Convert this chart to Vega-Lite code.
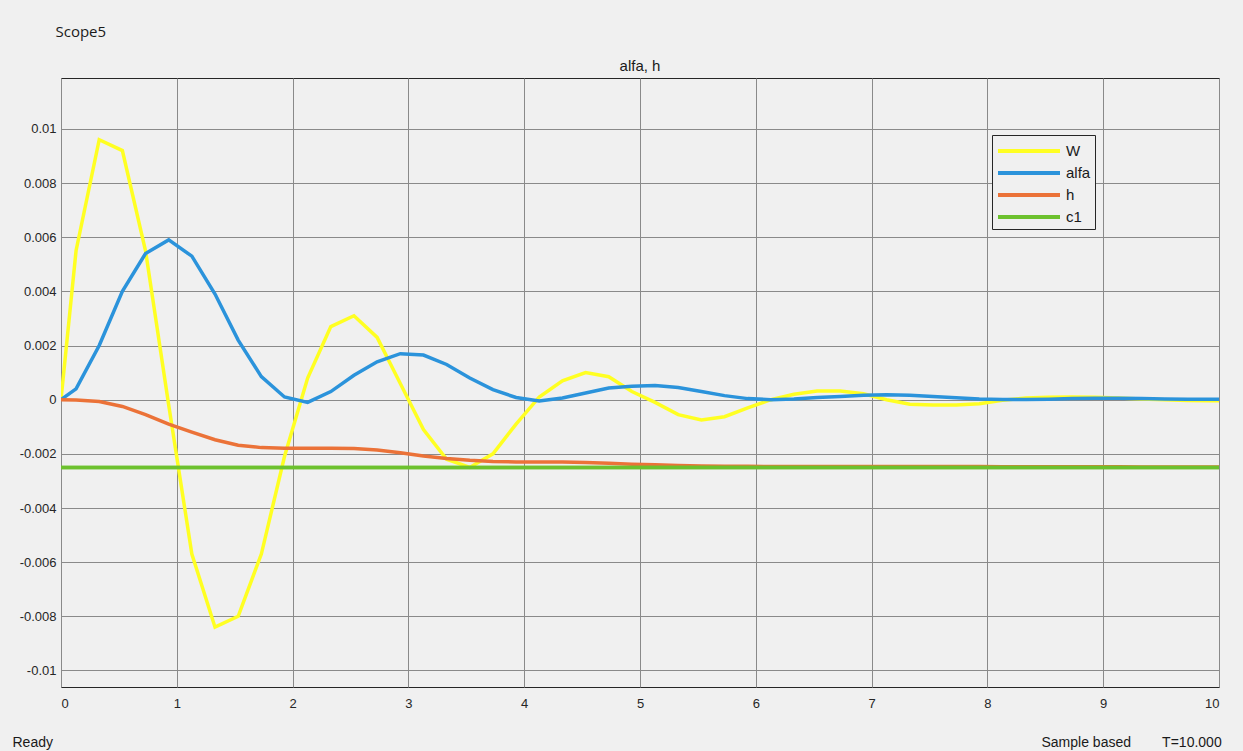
{
  "$schema": "https://vega.github.io/schema/vega-lite/v6.json",
  "width": 1158,
  "height": 609,
  "autosize": {"type": "none"},
  "padding": {"left": 61, "top": 78, "right": 24, "bottom": 64},
  "background": "#f0f0f0",
  "config": {
    "font": "Liberation Sans",
    "view": {"stroke": "#262626", "strokeWidth": 1, "fill": "#f0f0f0"}
  },
  "title": {"text": "alfa, h", "fontSize": 15, "fontWeight": "normal", "color": "#1a1a1a", "offset": -50, "anchor": "middle", "font": "Liberation Sans"},
  "data": {"values": [
    {"t": 0, "W": 0, "alfa": 0, "h": 0, "c1": -0.0025},
    {"t": 0.13, "W": 0.0055, "alfa": 0.0004, "h": -0.00001, "c1": -0.0025},
    {"t": 0.33, "W": 0.0096, "alfa": 0.0020, "h": -0.00007, "c1": -0.0025},
    {"t": 0.53, "W": 0.0092, "alfa": 0.0040, "h": -0.00025, "c1": -0.0025},
    {"t": 0.73, "W": 0.0055, "alfa": 0.0054, "h": -0.00055, "c1": -0.0025},
    {"t": 0.93, "W": -0.0002, "alfa": 0.0059, "h": -0.0009, "c1": -0.0025},
    {"t": 1.13, "W": -0.0057, "alfa": 0.0053, "h": -0.0012, "c1": -0.0025},
    {"t": 1.33, "W": -0.0084, "alfa": 0.0039, "h": -0.00148, "c1": -0.0025},
    {"t": 1.53, "W": -0.0080, "alfa": 0.0022, "h": -0.00168, "c1": -0.0025},
    {"t": 1.73, "W": -0.0057, "alfa": 0.00085, "h": -0.00177, "c1": -0.0025},
    {"t": 1.93, "W": -0.0021, "alfa": 0.0001, "h": -0.00179, "c1": -0.0025},
    {"t": 2.13, "W": 0.0008, "alfa": -0.0001, "h": -0.00179, "c1": -0.0025},
    {"t": 2.33, "W": 0.0027, "alfa": 0.0003, "h": -0.00179, "c1": -0.0025},
    {"t": 2.53, "W": 0.0031, "alfa": 0.0009, "h": -0.0018, "c1": -0.0025},
    {"t": 2.73, "W": 0.0023, "alfa": 0.0014, "h": -0.00186, "c1": -0.0025},
    {"t": 2.93, "W": 0.0006, "alfa": 0.0017, "h": -0.00196, "c1": -0.0025},
    {"t": 3.13, "W": -0.0011, "alfa": 0.00165, "h": -0.00208, "c1": -0.0025},
    {"t": 3.33, "W": -0.0022, "alfa": 0.0013, "h": -0.00217, "c1": -0.0025},
    {"t": 3.53, "W": -0.0025, "alfa": 0.0008, "h": -0.00224, "c1": -0.0025},
    {"t": 3.73, "W": -0.0020, "alfa": 0.00037, "h": -0.00228, "c1": -0.0025},
    {"t": 3.93, "W": -0.0009, "alfa": 0.00008, "h": -0.0023, "c1": -0.0025},
    {"t": 4.13, "W": 0.0001, "alfa": -0.00005, "h": -0.0023, "c1": -0.0025},
    {"t": 4.33, "W": 0.0007, "alfa": 0.00006, "h": -0.0023, "c1": -0.0025},
    {"t": 4.53, "W": 0.0010, "alfa": 0.00025, "h": -0.00232, "c1": -0.0025},
    {"t": 4.73, "W": 0.00085, "alfa": 0.00043, "h": -0.00235, "c1": -0.0025},
    {"t": 4.93, "W": 0.0003, "alfa": 0.0005, "h": -0.00238, "c1": -0.0025},
    {"t": 5.13, "W": -0.0001, "alfa": 0.00052, "h": -0.0024, "c1": -0.0025},
    {"t": 5.33, "W": -0.00055, "alfa": 0.00045, "h": -0.00243, "c1": -0.0025},
    {"t": 5.53, "W": -0.00075, "alfa": 0.0003, "h": -0.00245, "c1": -0.0025},
    {"t": 5.73, "W": -0.00063, "alfa": 0.00015, "h": -0.00246, "c1": -0.0025},
    {"t": 5.93, "W": -0.0003, "alfa": 0.00004, "h": -0.00246, "c1": -0.0025},
    {"t": 6.13, "W": 0.0, "alfa": 0.0, "h": -0.00247, "c1": -0.0025},
    {"t": 6.33, "W": 0.0002, "alfa": 0.00003, "h": -0.00247, "c1": -0.0025},
    {"t": 6.53, "W": 0.00032, "alfa": 0.00008, "h": -0.00247, "c1": -0.0025},
    {"t": 6.73, "W": 0.00032, "alfa": 0.00012, "h": -0.00247, "c1": -0.0025},
    {"t": 6.93, "W": 0.00022, "alfa": 0.00016, "h": -0.00247, "c1": -0.0025},
    {"t": 7.13, "W": 0.0, "alfa": 0.00018, "h": -0.00247, "c1": -0.0025},
    {"t": 7.33, "W": -0.00017, "alfa": 0.00016, "h": -0.00247, "c1": -0.0025},
    {"t": 7.53, "W": -0.0002, "alfa": 0.00012, "h": -0.00247, "c1": -0.0025},
    {"t": 7.73, "W": -0.0002, "alfa": 0.00007, "h": -0.00247, "c1": -0.0025},
    {"t": 7.93, "W": -0.00015, "alfa": 0.00003, "h": -0.00247, "c1": -0.0025},
    {"t": 8.13, "W": -0.00002, "alfa": 0.00001, "h": -0.00248, "c1": -0.0025},
    {"t": 8.33, "W": 0.00006, "alfa": 0.00001, "h": -0.00248, "c1": -0.0025},
    {"t": 8.53, "W": 0.00009, "alfa": 0.00002, "h": -0.00248, "c1": -0.0025},
    {"t": 8.73, "W": 0.0001, "alfa": 0.00004, "h": -0.00248, "c1": -0.0025},
    {"t": 8.93, "W": 0.00009, "alfa": 0.00005, "h": -0.00248, "c1": -0.0025},
    {"t": 9.13, "W": 0.00006, "alfa": 0.00005, "h": -0.00248, "c1": -0.0025},
    {"t": 9.33, "W": 0.00003, "alfa": 0.00004, "h": -0.00249, "c1": -0.0025},
    {"t": 9.53, "W": 0.0, "alfa": 0.00003, "h": -0.00249, "c1": -0.0025},
    {"t": 9.73, "W": -0.00003, "alfa": 0.00002, "h": -0.00249, "c1": -0.0025},
    {"t": 9.93, "W": -0.00004, "alfa": 0.00002, "h": -0.00249, "c1": -0.0025},
    {"t": 10, "W": -0.00004, "alfa": 0.00002, "h": -0.00249, "c1": -0.0025}
  ]},
  "transform": [{"fold": ["W", "alfa", "h", "c1"], "as": ["series", "value"]}],
  "layer": [
    {
      "mark": {"type": "line", "strokeWidth": 3.5, "clip": true},
      "encoding": {
        "x": {
          "field": "t", "type": "quantitative",
          "scale": {"domain": [0, 10], "nice": false},
          "axis": {
            "values": [0, 1, 2, 3, 4, 5, 6, 7, 8, 9, 10],
            "format": "d",
            "grid": true, "gridColor": "#8a8a8a", "gridOpacity": 1, "gridWidth": 1,
            "ticks": false, "domain": false,
            "labelFontSize": 13, "labelColor": "#262626", "labelPadding": 10,
            "labelFont": "Liberation Sans",
            "title": "Ready", "titleFont": "Liberation Sans", "titleFontSize": 14,
            "titleFontWeight": "normal", "titleColor": "#1a1a1a",
            "titleAnchor": "start", "titleAlign": "left", "titleBaseline": "alphabetic",
            "titleX": -49, "titleY": 59
          }
        },
        "y": {
          "field": "value", "type": "quantitative",
          "scale": {"domain": [-0.01061, 0.01188], "nice": false, "zero": false},
          "axis": {
            "values": [-0.01, -0.008, -0.006, -0.004, -0.002, 0, 0.002, 0.004, 0.006, 0.008, 0.01],
            "labelExpr": "'' + datum.value",
            "grid": true, "gridColor": "#8a8a8a", "gridOpacity": 1, "gridWidth": 1,
            "ticks": false, "domain": false,
            "labelFontSize": 13, "labelColor": "#262626", "labelPadding": 5,
            "labelFont": "Liberation Sans",
            "title": "Scope5", "titleFont": "Open Sans", "titleFontSize": 15,
            "titleFontWeight": "normal", "titleColor": "#1a1a1a", "titleAngle": 0,
            "titleAlign": "left", "titleBaseline": "alphabetic",
            "titleX": -6, "titleY": -42
          }
        },
        "color": {
          "field": "series", "type": "nominal",
          "scale": {"domain": ["W", "alfa", "h", "c1"], "range": ["#FFFF22", "#2B93DB", "#EB7238", "#6CC12E"]},
          "legend": {
            "orient": "none", "legendX": 931, "legendY": 57,
            "title": null, "fillColor": "#f0f0f0", "strokeColor": "#262626",
            "padding": 4, "symbolType": "M-3.1,0H3.1", "symbolStrokeWidth": 4,
            "symbolSize": 400, "symbolOffset": 21, "labelOffset": 25,
            "labelFontSize": 15, "labelColor": "#1a1a1a",
            "labelFont": "Liberation Sans", "rowPadding": 2
          }
        }
      }
    },
    {
      "transform": [{"filter": "datum.series == 'c1'"}],
      "mark": {"type": "line", "strokeWidth": 3.5, "clip": true, "color": "#6CC12E"},
      "encoding": {
        "x": {"field": "t", "type": "quantitative"},
        "y": {
          "field": "value", "type": "quantitative",
          "scale": {"domain": [-0.01061, 0.01188], "nice": false, "zero": false},
          "axis": {
            "orient": "right", "grid": false, "ticks": false, "domain": false, "labels": false,
            "title": "Sample based\u00a0\u00a0\u00a0\u00a0\u00a0\u00a0\u00a0\u00a0T=10.000", "titleFont": "Liberation Sans", "titleFontSize": 14,
            "titleFontWeight": "normal", "titleColor": "#1a1a1a", "titleAngle": 0,
            "titleAlign": "left", "titleBaseline": "alphabetic",
            "titleX": -178, "titleY": 668
          }
        }
      }
    }
  ],
  "resolve": {"scale": {"y": "independent"}, "axis": {"y": "independent"}}
}
